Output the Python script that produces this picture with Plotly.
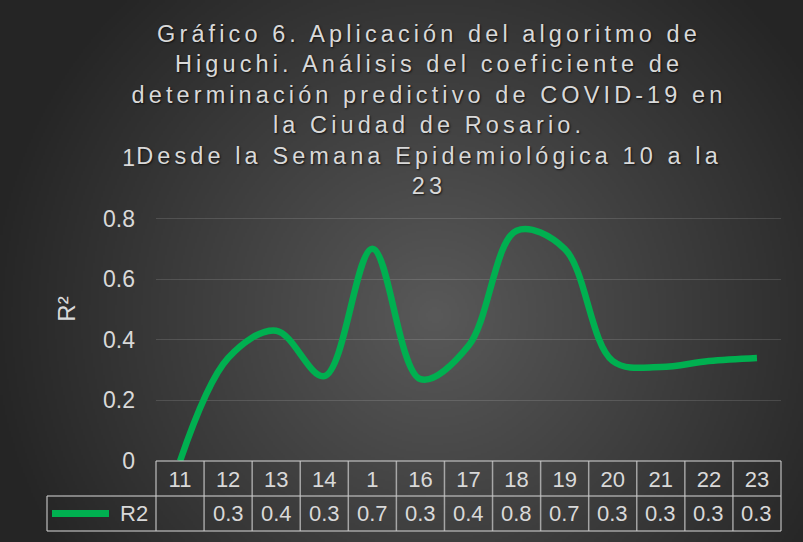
import base64
import struct
import zlib

import numpy as np
import plotly.graph_objects as go

# ---------------- data ----------------
categories = ["11", "12", "13", "14", "1", "16", "17", "18", "19", "20", "21", "22", "23"]
r2_values = [None, 0.34, 0.43, 0.28, 0.70, 0.27, 0.38, 0.76, 0.70, 0.33, 0.31, 0.33, 0.34]
series_name = "R2"
y_ticks = [0, 0.2, 0.4, 0.6, 0.8, 1]

title_lines = [
    "Gráfico 6. Aplicación del algoritmo de",
    "Higuchi. Análisis del coeficiente de",
    "determinación predictivo de COVID-19 en",
    "la Ciudad de Rosario.",
    "Desde la Semana Epidemiológica 10 a la",
    "23",
]

# ---------------- layout geometry ----------------
W, H = 803, 542
ML, MR, MT, MB = 156, 22, 157, 81
PW, PH = W - ML - MR, H - MT - MB
ROW_H = 35          # table row height in px
LEG_LEFT = 109      # legend cell width in px

GREEN = "#00B050"
TXT = "#d9d9d9"
GRID = "rgba(255,255,255,0.13)"
TABLE_LINE = "rgba(200,200,200,0.75)"
SANS = "Liberation Sans, Arial, sans-serif"


# ---------------- background radial gradient (PNG) ----------------
def make_png(arr):
    h, w = arr.shape
    raw = b"".join(b"\x00" + arr[i].tobytes() for i in range(h))

    def chunk(tag, data):
        c = struct.pack(">I", len(data)) + tag + data
        return c + struct.pack(">I", zlib.crc32(tag + data) & 0xFFFFFFFF)

    return (b"\x89PNG\r\n\x1a\n"
            + chunk(b"IHDR", struct.pack(">IIBBBBB", w, h, 8, 0, 0, 0, 0))
            + chunk(b"IDAT", zlib.compress(raw, 9))
            + chunk(b"IEND", b""))


gw, gh = 402, 271
yy, xx = np.mgrid[0:gh, 0:gw]
cx, cy = 0.54 * gw, 0.58 * gh
dist = np.sqrt((xx - cx) ** 2 + (yy - cy) ** 2) / (0.56 * gw)
t = np.clip(dist, 0, 1)
grad = (89 - 52 * t).astype(np.uint8)
bg_src = "data:image/png;base64," + base64.b64encode(make_png(grad)).decode()

# ---------------- figure ----------------
y_plot = [v if v is not None else 0 for v in r2_values]  # empty cells plotted as zero

fig = go.Figure()
fig.add_trace(go.Scatter(
    x=categories, y=y_plot, mode="lines", name=series_name,
    line=dict(color=GREEN, width=6.5, shape="spline", smoothing=1.0),
    showlegend=False, hoverinfo="x+y",
))

Y_MAX = 1.003
shapes = []
n = len(categories)
row1 = -ROW_H / PH
row2 = -2 * ROW_H / PH
leg_x = -LEG_LEFT / PW
line_style = dict(color=TABLE_LINE, width=1.5)

# horizontal table lines
shapes.append(dict(type="line", xref="x domain", yref="y domain", x0=0, x1=1, y0=0, y1=0, line=line_style))
for yv in (row1, row2):
    shapes.append(dict(type="line", xref="x domain", yref="y domain", x0=leg_x, x1=1, y0=yv, y1=yv, line=line_style))
# vertical table lines
for i in range(n + 1):
    shapes.append(dict(type="line", xref="x domain", yref="y domain", x0=i / n, x1=i / n, y0=row2, y1=0, line=line_style))
shapes.append(dict(type="line", xref="x domain", yref="y domain", x0=leg_x, x1=leg_x, y0=row2, y1=row1, line=line_style))
# legend key
shapes.append(dict(type="line", xref="x domain", yref="y domain",
                   x0=-104 / PW, x1=-47 / PW, y0=(row1 + row2) / 2, y1=(row1 + row2) / 2,
                   line=dict(color=GREEN, width=7)))

annotations = []
for i, v in enumerate(r2_values):
    annotations.append(dict(
        x=i, xref="x", y=(row1 + row2) / 2, yref="y domain",
        text="" if v is None else f"{v:.1f}", showarrow=False,
        font=dict(family=SANS, size=22, color=TXT), xanchor="center", yanchor="middle",
    ))
annotations.append(dict(
    x=-6 / PW, xref="x domain", y=(row1 + row2) / 2, yref="y domain",
    text=series_name, showarrow=False, font=dict(family=SANS, size=22, color=TXT),
    xanchor="right", yanchor="middle",
))

title_text = "<br>".join(f'<span style="letter-spacing:4.1px">{ln}</span>' for ln in title_lines)

fig.update_layout(
    width=W, height=H,
    margin=dict(l=ML, r=MR, t=MT, b=MB, pad=0),
    paper_bgcolor="#333333", plot_bgcolor="rgba(0,0,0,0)",
    title=dict(
        text=title_text, x=429 / W, xanchor="center", y=1 - 41.5 / H, yanchor="top",
        xref="container", yref="container",
        font=dict(family=SANS, size=23.5, color=TXT, shadow="1px 1px 2px rgba(0,0,0,0.7)"),
    ),
    xaxis=dict(
        type="category", categoryorder="array", categoryarray=categories,
        range=[-0.5, n - 0.5], showgrid=False, zeroline=False, showline=False,
        ticks="", tickfont=dict(family=SANS, size=22, color=TXT), ticklabelstandoff=3,
        fixedrange=True,
    ),
    yaxis=dict(
        range=[0, Y_MAX], tickvals=y_ticks, showgrid=True, gridcolor=GRID, gridwidth=1.2,
        zeroline=False, showline=False, ticks="",
        tickfont=dict(family=SANS, size=23, color=TXT), ticklabelstandoff=20,
        title=dict(text="R²", font=dict(family=SANS, size=24, color=TXT), standoff=20),
        fixedrange=True,
    ),
    shapes=shapes,
    annotations=annotations,
    images=[dict(
        source=bg_src, xref="paper", yref="paper",
        x=-ML / PW, y=1 + MT / PH, sizex=W / PW, sizey=H / PH,
        sizing="stretch", xanchor="left", yanchor="top", layer="below",
    )],
)

fig.write_html("out.html", config={"displayModeBar": False},
               post_script="document.body.style.margin='0';")
